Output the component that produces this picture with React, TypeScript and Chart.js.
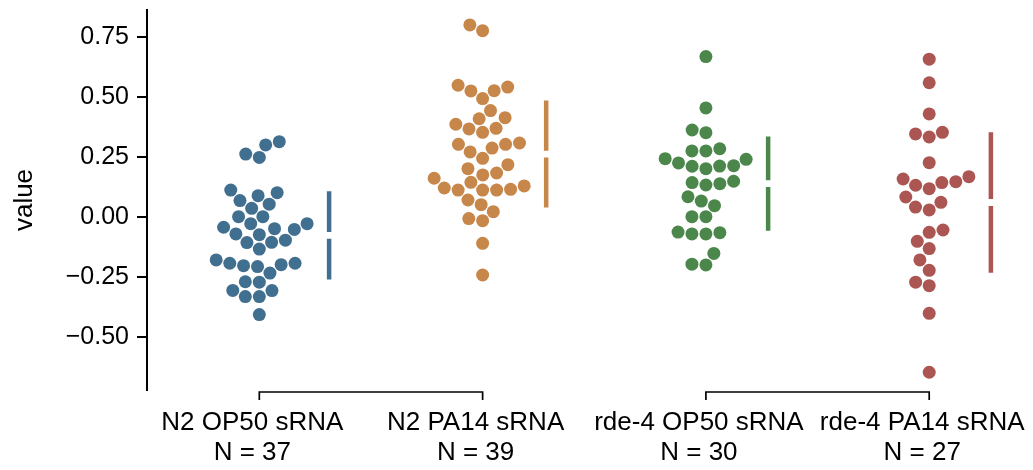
import React, { useEffect, useRef } from 'react';
import { Chart, registerables } from 'chart.js';

Chart.register(...registerables);

// ---------- data ----------
const GROUPS = ['N2 OP50 sRNA', 'N2 PA14 sRNA', 'rde-4 OP50 sRNA', 'rde-4 PA14 sRNA'];
const POSITIONS = [0, 1, 2, 3];
const PAIRS = [[0, 1], [2, 3]];
const Y_TICKS = [-0.5, -0.25, 0, 0.25, 0.5, 0.75];

const N2_OP50 = [0.3125, 0.299, 0.261, 0.247, 0.111, 0.1, 0.0875, 0.067, 0.052, 0.035, 0.0, 0.0,
  -0.029, -0.029, -0.044, -0.05, -0.053, -0.072, -0.075, -0.098, -0.107, -0.108, -0.135,
  -0.18, -0.194, -0.194, -0.2, -0.204, -0.208, -0.235, -0.271, -0.273, -0.307, -0.308, -0.333, -0.333, -0.408];
const N2_PA14 = [0.799, 0.775, 0.5475, 0.54, 0.525, 0.524, 0.492, 0.442, 0.4125, 0.408, 0.385, 0.368,
  0.3654, 0.3515, 0.307, 0.3015, 0.3015, 0.286, 0.2696, 0.243, 0.2167, 0.2, 0.182, 0.174, 0.16, 0.143,
  0.128, 0.1196, 0.114, 0.111, 0.111, 0.111, 0.0696, 0.05, 0.021, -0.008, -0.0167, -0.111, -0.243];
const RDE4_OP50 = [0.667, 0.453, 0.361, 0.35, 0.283, 0.274, 0.274, 0.2417, 0.239, 0.224, 0.2125, 0.211,
  0.21, 0.2, 0.1475, 0.142, 0.1375, 0.132, 0.083, 0.065, 0.046, 0.0, 0.0, -0.064, -0.0667, -0.072, -0.072,
  -0.153, -0.198, -0.201];
const RDE4_PA14 = [0.656, 0.558, 0.428, 0.3515, 0.3446, 0.332, 0.225, 0.1667, 0.157, 0.146, 0.142, 0.131,
  0.1167, 0.082, 0.06, 0.04, 0.028, -0.0555, -0.065, -0.1025, -0.133, -0.18, -0.2235, -0.273, -0.2875,
  -0.4027, -0.648];

const SERIES = [N2_OP50, N2_PA14, RDE4_OP50, RDE4_PA14];
const COLORS = ['rgb(65,111,144)', 'rgb(199,134,74)', 'rgb(75,135,75)', 'rgb(172,86,84)'];

// ---------- style constants ----------
const FONT = '"Liberation Sans", Arial, Helvetica, sans-serif';
const DOT_RADIUS = 6.5;
const SWARM_SPACING = 14; // px between centres of touching dots
const BAR_GAP_PX = 3.4;   // half of the gap around the mean
const BAR_OFFSET_PX = 22; // distance of the mean/sd line from the swarm's right edge

function mean(a: number[]) {
  return a.reduce((s, v) => s + v, 0) / a.length;
}
function sd(a: number[]) {
  const m = mean(a);
  return Math.sqrt(a.reduce((s, v) => s + (v - m) * (v - m), 0) / (a.length - 1));
}

// beeswarm layout in pixel space: returns horizontal pixel offsets
function beeswarm(ys: number[], d: number): number[] {
  const order = ys.map((_, i) => i).sort((a, b) => ys[b] - ys[a]);
  const px: number[] = [];
  const py: number[] = [];
  const out = new Array(ys.length).fill(0);
  for (const i of order) {
    const y = ys[i];
    const cands: number[] = [0];
    for (let j = 0; j < px.length; j++) {
      const dy = Math.abs(y - py[j]);
      if (dy < d) {
        const dx = Math.sqrt(d * d - dy * dy);
        cands.push(px[j] - dx, px[j] + dx);
      }
    }
    cands.sort((a, b) => Math.abs(a) - Math.abs(b));
    let chosen = 0;
    for (const c of cands) {
      let ok = true;
      for (let j = 0; j < px.length; j++) {
        const ddx = c - px[j];
        const ddy = y - py[j];
        if (ddx * ddx + ddy * ddy < d * d - 1e-6) { ok = false; break; }
      }
      if (ok) { chosen = c; break; }
    }
    px.push(chosen);
    py.push(y);
    out[i] = chosen;
  }
  return out;
}

const bracketPlugin = {
  id: 'brackets',
  afterDraw(chart: any) {
    const { ctx, chartArea, scales } = chart;
    const x = scales.x;
    const y0 = chartArea.bottom + 2;
    const y1 = y0 + 8;
    ctx.save();
    ctx.strokeStyle = '#000';
    ctx.lineWidth = 1.7;
    for (const [a, b] of PAIRS) {
      const xa = x.getPixelForValue(POSITIONS[a]);
      const xb = x.getPixelForValue(POSITIONS[b]);
      ctx.beginPath();
      ctx.moveTo(xa, y1);
      ctx.lineTo(xa, y0);
      ctx.lineTo(xb, y0);
      ctx.lineTo(xb, y1);
      ctx.stroke();
    }
    ctx.restore();
  },
};

export default function App() {
  const ref = useRef<HTMLCanvasElement>(null);

  useEffect(() => {
    if (!ref.current) return;
    Chart.defaults.font.family = FONT;
    Chart.defaults.color = '#000';

    const swarmSets = SERIES.map((vals, g) => ({
      type: 'scatter' as const,
      label: GROUPS[g],
      data: vals.map((v) => ({ x: POSITIONS[g], y: v })),
      backgroundColor: COLORS[g],
      borderWidth: 0,
      pointRadius: DOT_RADIUS,
      pointHoverRadius: DOT_RADIUS,
    }));
    const barSets = SERIES.map((_, g) => ({
      type: 'scatter' as const,
      label: GROUPS[g] + ' mean ± sd',
      data: [] as any[],
      showLine: true,
      spanGaps: false,
      borderColor: COLORS[g],
      borderWidth: 4.5,
      borderCapStyle: 'butt' as const,
      pointRadius: 0,
      pointHoverRadius: 0,
    }));

    const chart = new Chart(ref.current, {
      type: 'scatter',
      data: { datasets: [...barSets, ...swarmSets] as any },
      plugins: [bracketPlugin],
      options: {
        responsive: false,
        animation: false,
        devicePixelRatio: 1,
        layout: { padding: { top: 10, right: 8, left: 0, bottom: 0 } },
        plugins: { legend: { display: false }, tooltip: { enabled: false } },
        scales: {
          x: {
            type: 'linear',
            position: 'bottom',
            min: -0.503,
            max: 3.429,
            afterBuildTicks: (scale: any) => {
              scale.ticks = POSITIONS.map((p) => ({ value: p }));
            },
            afterFit: (scale: any) => {
              scale.height = 80;
              scale.paddingLeft = 0;
              scale.paddingRight = 0;
            },
            ticks: {
              autoSkip: false,
              maxRotation: 0,
              minRotation: 0,
              padding: 18,
              labelOffset: -7,
              color: '#000',
              font: { size: 26, lineHeight: 1.15 },
              callback: (value: any) => {
                const i = POSITIONS.indexOf(Math.round(Number(value)));
                return [GROUPS[i], 'N = ' + SERIES[i].length];
              },
            },
            grid: { display: false, drawTicks: false },
            border: { display: false },
          },
          y: {
            type: 'linear',
            min: -0.722,
            max: 0.861,
            afterBuildTicks: (scale: any) => {
              scale.ticks = Y_TICKS.map((v) => ({ value: v }));
            },
            afterFit: (scale: any) => {
              scale.width = 147;
              scale.paddingTop = 0;
              scale.paddingBottom = 0;
            },
            title: {
              display: true,
              text: 'value',
              color: '#000',
              font: { size: 26, lineHeight: 1.2 },
              padding: { top: 9, bottom: 0 },
            },
            ticks: {
              padding: 8,
              color: '#000',
              font: { size: 25 },
              callback: (value: any) => {
                const v = Number(value);
                return v < 0 ? '\u2212' + Math.abs(v).toFixed(2) : v.toFixed(2);
              },
            },
            grid: {
              display: true,
              drawOnChartArea: false,
              drawTicks: true,
              tickLength: 10,
              color: '#000',
              lineWidth: 2,
            },
            border: { display: true, color: '#000', width: 2 },
          },
        },
      } as any,
    });

    // lay out the swarms and the mean ± sd lines through the chart's scales
    const xs: any = chart.scales.x;
    const ys: any = chart.scales.y;
    const pxPerX = xs.getPixelForValue(1) - xs.getPixelForValue(0);
    const pxPerY = ys.getPixelForValue(0) - ys.getPixelForValue(1);
    SERIES.forEach((vals, g) => {
      const offs = beeswarm(vals.map((v) => ys.getPixelForValue(v)), SWARM_SPACING);
      (chart.data.datasets[4 + g] as any).data = vals.map((v, i) => ({ x: POSITIONS[g] + offs[i] / pxPerX, y: v }));
      const maxOff = Math.max(...offs);
      const bx = POSITIONS[g] + (maxOff + BAR_OFFSET_PX) / pxPerX;
      const m = mean(vals);
      const s = sd(vals);
      const gap = BAR_GAP_PX / pxPerY;
      (chart.data.datasets[g] as any).data = [
        { x: bx, y: m + s },
        { x: bx, y: m + gap },
        { x: bx, y: null },
        { x: bx, y: m - gap },
        { x: bx, y: m - s },
      ];
    });
    chart.update();

    return () => chart.destroy();
  }, []);

  return (
    <div style={{ position: 'fixed', left: 0, top: 0, width: 1033, height: 470, background: '#fff' }}>
      <canvas ref={ref} width={1033} height={470} style={{ display: 'block', width: 1033, height: 470 }} />
    </div>
  );
}
